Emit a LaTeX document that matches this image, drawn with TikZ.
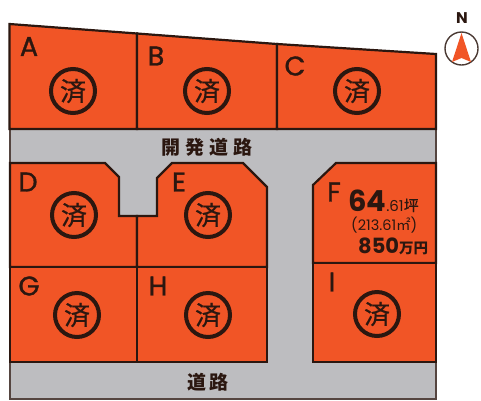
\documentclass[tikz,border=0pt]{standalone}
\usepackage{fontspec}
\setmainfont{Poppins}
\newfontfamily\medlatin{Poppins}[FakeBold=1.2]
\newfontfamily\cjk{Noto Sans CJK JP}
\newfontfamily\medcjk{Noto Sans CJK JP}[FakeBold=0.6]
\definecolor{lot}{HTML}{F15526}
\definecolor{ink}{HTML}{2B1710}
\definecolor{road}{HTML}{BDBDC0}
\tikzset{
  lotshape/.style={fill=lot,draw=ink,line width=2.2pt,line join=miter},
  letter/.style={text=ink,font=\medlatin\fontsize{27}{27}\selectfont,inner sep=0pt},
  sold/.style={circle,draw=ink,line width=4pt,minimum size=44pt,inner sep=0pt,text=ink,font=\medcjk\fontsize{26}{26}\selectfont},
  roadname/.style={text=ink,font=\cjk\bfseries\fontsize{19}{19}\selectfont,inner sep=0pt},
  info/.style={text=ink,inner sep=0pt,anchor=base west}
}
\begin{document}
\begin{tikzpicture}[x=1pt,y=-1pt]
\useasboundingbox (0,0) rectangle (481,400);
% road
\fill[road] (10,128) rectangle (436,399);
\draw[ink!80,line width=1.2pt] (10,128) -- (10,399) -- (436,399) -- (436,128);
% lots
\draw[lotshape] (9.5,24) -- (137,33.5) -- (137,129) -- (9.5,129) -- cycle;
\draw[lotshape] (137,33.5) -- (277,44) -- (277,129) -- (137,129) -- cycle;
\draw[lotshape] (277,44) -- (436,54) -- (436,129) -- (277,129) -- cycle;
\draw[lotshape] (10,163) -- (105,163) -- (119,177) -- (119,216) -- (137,216) -- (137,267) -- (10,267) -- cycle;
\draw[lotshape] (137,216) -- (157,216) -- (157,178) -- (172,163) -- (243,163) -- (267,187) -- (267,267) -- (137,267) -- cycle;
\draw[lotshape] (10,267) -- (137,267) -- (137,362) -- (10,362) -- cycle;
\draw[lotshape] (137,267) -- (267,267) -- (267,362) -- (137,362) -- cycle;
\draw[lotshape] (313,185) -- (336,163) -- (436,163) -- (436,263) -- (313,263) -- cycle;
\draw[lotshape] (313,263) -- (436,263) -- (436,362) -- (313,362) -- cycle;
% letters
\node[letter] (la) at (29,46.5) {A};
\node[letter] (lb) at (156,56) {B};
\node[letter] (lc) at (295,66) {C};
\node[letter] (ld) at (28,182) {D};
\node[letter] (le) at (179,182) {E};
\node[letter] (lf) at (334,192) {F};
\node[letter] (lg) at (29,286) {G};
\node[letter] (lh) at (158,286) {H};
\node[letter] (li) at (332,282) {I};
% sold marks
\node[sold] (sa) at (73,91) {済};
\node[sold] (sb) at (207,91) {済};
\node[sold] (sc) at (357,91) {済};
\node[sold] (sd) at (74,215) {済};
\node[sold] (se) at (208,215) {済};
\node[sold] (sg) at (77,315) {済};
\node[sold] (sh) at (208,315) {済};
\node[sold] (si) at (377,314) {済};
% road names
\node[roadname] (r1) at (207,147) {開\hspace{5pt}発\hspace{5pt}道\hspace{5pt}路};
\node[roadname] (r2) at (208,382) {道\hspace{3pt}路};
% F info
\node[info] (f1) at (348,211) {\fontsize{29}{29}\selectfont\bfseries 64\fontsize{15}{15}\selectfont\mdseries.61{\medcjk 坪}};
\node[info] (f2) at (351,230) {\fontsize{14.5}{14.5}\selectfont (213.61{\cjk ㎡})};
\node[info] (f3) at (358,253) {\fontsize{21}{21}\selectfont\bfseries 850{\cjk\fontsize{14.5}{15}\selectfont 万円}};
% north mark
\node[text=ink,font=\bfseries\fontsize{15.5}{16}\selectfont,inner sep=0pt] (n) at (462,18.5) {N};
\node[circle,draw=ink!85,line width=1.4pt,minimum size=33pt,inner sep=0pt] (comp) at (461.5,48.5) {};
\fill[lot] (461.5,33) -- (471,62) -- (461.5,58) -- (452,62) -- cycle;
\end{tikzpicture}
\end{document}
